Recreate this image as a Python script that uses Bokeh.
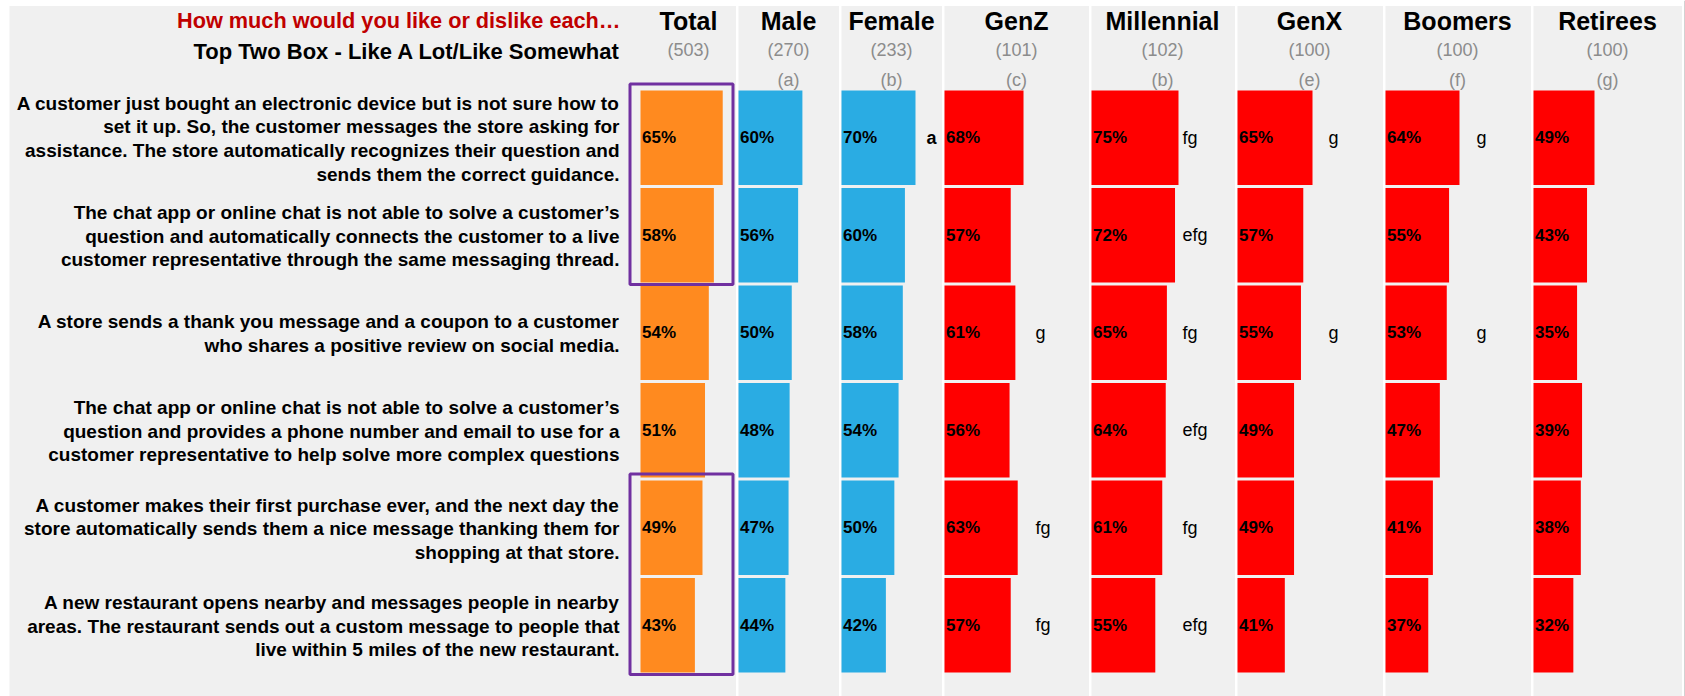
from bokeh.plotting import figure
from bokeh.models import Range1d, ColumnDataSource
from bokeh.embed import file_html
from bokeh.resources import INLINE
from bokeh.core.properties import value

# ---------------- data ----------------
title_text = "How much would you like or dislike each\u2026"
subtitle_text = "Top Two Box - Like A Lot/Like Somewhat"

questions = [
    "A customer just bought an electronic device but is not sure how to\nset it up. So, the customer messages the store asking for\nassistance. The store automatically recognizes their question and\nsends them the correct guidance.",
    "The chat app or online chat is not able to solve a customer\u2019s\nquestion and automatically connects the customer to a live\ncustomer representative through the same messaging thread.",
    "A store sends a thank you message and a coupon to a customer\nwho shares a positive review on social media.",
    "The chat app or online chat is not able to solve a customer\u2019s\nquestion and provides a phone number and email to use for a\ncustomer representative to help solve more complex questions",
    "A customer makes their first purchase ever, and the next day the\nstore automatically sends them a nice message thanking them for\nshopping at that store.",
    "A new restaurant opens nearby and messages people in nearby\nareas. The restaurant sends out a custom message to people that\nlive within 5 miles of the new restaurant.",
]

groups = ["Total", "Male", "Female", "GenZ", "Millennial", "GenX", "Boomers", "Retirees"]
bases = ["(503)", "(270)", "(233)", "(101)", "(102)", "(100)", "(100)", "(100)"]
col_letters = ["", "(a)", "(b)", "(c)", "(b)", "(e)", "(f)", "(g)"]

total = [65, 58, 54, 51, 49, 43]
male = [60, 56, 50, 48, 47, 44]
female = [70, 60, 58, 54, 50, 42]
genz = [68, 57, 61, 56, 63, 57]
millennial = [75, 72, 65, 64, 61, 55]
genx = [65, 57, 55, 49, 49, 41]
boomers = [64, 55, 53, 47, 41, 37]
retirees = [49, 43, 35, 39, 38, 32]

sig_total = ["", "", "", "", "", ""]
sig_male = ["", "", "", "", "", ""]
sig_female = ["a", "", "", "", "", ""]
sig_genz = ["", "", "g", "", "fg", "fg"]
sig_millennial = ["fg", "efg", "fg", "efg", "fg", "efg"]
sig_genx = ["g", "", "g", "", "", ""]
sig_boomers = ["g", "", "g", "", "", ""]
sig_retirees = ["", "", "", "", "", ""]

highlighted_rows = [(0, 1), (4, 5)]   # rows boxed in the Total column

series = [total, male, female, genz, millennial, genx, boomers, retirees]
sigs = [sig_total, sig_male, sig_female, sig_genz, sig_millennial, sig_genx, sig_boomers, sig_retirees]

# ---------------- layout / style ----------------
W, H = 1685, 696
ORANGE, BLUE, RED = "#FF8A1F", "#2AACE3", "#FF0000"
colors = [ORANGE, BLUE, BLUE, RED, RED, RED, RED, RED]
FONT = "Liberation Sans"

# panel extents (left, right) for each column (Total panel also holds the question texts)
panel_left = [9, 738, 841, 944, 1091, 1237, 1385, 1533]
panel_right = [735.5, 838.5, 941.5, 1088.5, 1234.5, 1382.5, 1530.5, 1681.5]
bar_start = [640, 738, 841, 944, 1091, 1237, 1385, 1533]
px_per_pct = [1.265, 1.065, 1.057, 1.162, 1.16, 1.154, 1.156, 1.245]
head_center = [688, 788, 891, 1016, 1162, 1309, 1457, 1607]
sig_offset = [0, 0, 85, 91, 91, 91, 91, 91]
sig_bold = [False, False, True, False, False, False, False, False]

ROW0, PITCH, BAR_H = 90.0, 97.5, 94.5
PANEL_TOP = 5.5

p = figure(width=W, height=H, x_range=Range1d(0, W), y_range=Range1d(H, 0),
           output_backend="svg", toolbar_location=None, min_border=0,
           background_fill_color="white", border_fill_color="white")
p.xaxis.visible = False
p.yaxis.visible = False
p.grid.visible = False
p.outline_line_color = None

# gray column panels
p.quad(left=panel_left, right=panel_right, top=[PANEL_TOP] * 8, bottom=[H] * 8,
       fill_color="#F0F0F0", line_color=None)
# right border strip
p.quad(left=[1684], right=[1685], top=[0], bottom=[H], fill_color="#A6A6A6", line_color=None)

n = len(questions)
row_top = [ROW0 + PITCH * i for i in range(n)]
row_mid = [t + BAR_H / 2 for t in row_top]

# bars + labels
for c, vals in enumerate(series):
    lefts = [bar_start[c]] * n
    rights = [bar_start[c] + v * px_per_pct[c] for v in vals]
    src = ColumnDataSource(dict(left=lefts, right=rights, top=row_top,
                                bottom=[t + BAR_H for t in row_top], mid=row_mid,
                                lab=[f"{v}%" for v in vals],
                                lx=[bar_start[c] + 1.5] * n))
    p.quad(left="left", right="right", top="top", bottom="bottom", source=src,
           fill_color=colors[c], line_color=None)
    p.text(x="lx", y="mid", text="lab", source=src, text_font=value(FONT),
           text_font_style="bold", text_font_size="17px", text_color="black",
           text_align="left", text_baseline="middle")
    sx = [bar_start[c] + sig_offset[c]] * n
    p.text(x=sx, y=row_mid, text=sigs[c], text_font=value(FONT),
           text_font_style="bold" if sig_bold[c] else "normal", text_font_size="18px",
           text_color="black", text_align="left", text_baseline="middle")

# highlight boxes in Total column
for (r0, r1) in highlighted_rows:
    top = row_top[r0] - 6.5
    bottom = row_top[r1] + BAR_H + 2
    left = bar_start[0] - 10.5
    right = panel_right[0] - 3
    p.quad(left=[left], right=[right], top=[top], bottom=[bottom],
           fill_color=None, line_color="#7030A0", line_width=3)

# question texts
p.text(x=[619] * n, y=[m + 1 for m in row_mid], text=questions, text_font=value(FONT),
       text_font_style="bold", text_font_size="19px", text_color="black",
       text_align="right", text_baseline="middle", text_line_height=1.12)

# headers
p.text(x=[620], y=[20], text=[title_text], text_font=value(FONT), text_font_style="bold",
       text_font_size="21.7px", text_color="#C00000", text_align="right", text_baseline="middle")
p.text(x=[620], y=[50.5], text=[subtitle_text], text_font=value(FONT), text_font_style="bold",
       text_font_size="22px", text_color="black", text_align="right", text_baseline="middle")
p.text(x=head_center, y=[20] * 8, text=groups, text_font=value(FONT), text_font_style="bold",
       text_font_size="25px", text_color="black", text_align="center", text_baseline="middle")
p.text(x=head_center, y=[49] * 8, text=bases, text_font=value(FONT),
       text_font_size="18px", text_color="#8C8C8C", text_align="center", text_baseline="middle")
p.text(x=head_center, y=[79.5] * 8, text=col_letters, text_font=value(FONT),
       text_font_size="18px", text_color="#8C8C8C", text_align="center", text_baseline="middle")

open("out.html", "w").write(file_html(p, INLINE))
